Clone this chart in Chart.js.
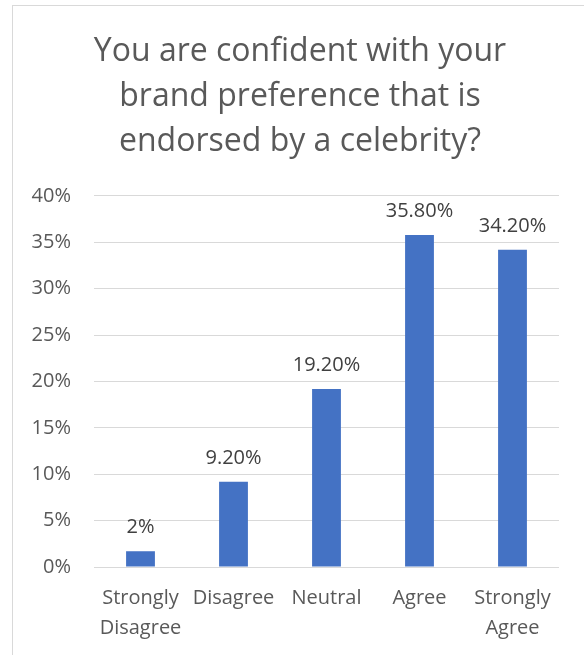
<!DOCTYPE html>
<html>
<head>
<meta charset="utf-8">
<script src="https://cdn.jsdelivr.net/npm/chart.js@4"></script>
<style>
  body { margin: 0; background: #fff; }
  .frame { position: absolute; left: 12px; top: 5px; width: 640px; height: 700px; border: 1px solid #d9d9d9; }
  #myChart { position: absolute; left: 0; top: 0; }
</style>
</head>
<body>
<div class="frame"></div>
<canvas id="myChart" width="584" height="655"></canvas>
<script>
const categories = [["Strongly", "Disagree"], "Disagree", "Neutral", "Agree", ["Strongly", "Agree"]];
const percentValues = [1.7, 9.2, 19.2, 35.8, 34.2];
const valueLabels = ["2%", "9.20%", "19.20%", "35.80%", "34.20%"];
const yTicks = [0, 5, 10, 15, 20, 25, 30, 35, 40];

const textColor = "#595959";
const fontFamily = "'Open Sans', 'Noto Sans', sans-serif";

// draws the value above each bar, like excel data labels
const barLabels = {
    id: "barLabels",
    afterDatasetsDraw(chart) {
        const ctx = chart.ctx;
        const meta = chart.getDatasetMeta(0);
        ctx.save();
        ctx.fillStyle = "#404040";
        ctx.font = "20px " + fontFamily;
        ctx.textAlign = "center";
        ctx.textBaseline = "alphabetic";
        meta.data.forEach((bar, i) => {
            ctx.fillText(valueLabels[i], bar.x, bar.y - 18);
        });
        ctx.restore();
    }
};

const myChartRef = document.getElementById("myChart").getContext("2d");
new Chart(myChartRef, {
    type: "bar",
    data: {
        labels: categories,
        datasets: [{
            data: percentValues,
            backgroundColor: "#4472C4",
            categoryPercentage: 1,
            barPercentage: 0.31
        }]
    },
    options: {
        responsive: false,
        animation: false,
        layout: { padding: { left: 16, right: 0, top: 0, bottom: 0 } },
        plugins: {
            legend: { display: false },
            tooltip: { enabled: false },
            title: {
                display: true,
                text: ["You are confident with your", "brand preference that is", "endorsed by a celebrity?"],
                color: textColor,
                font: { family: fontFamily, size: 32, weight: "normal", lineHeight: 1.406 },
                padding: { top: 29, bottom: 32 }
            }
        },
        scales: {
            x: {
                grid: { display: false },
                border: { display: false },
                afterFit(axis) { axis.height = 88; },
                ticks: {
                    color: textColor,
                    font: { family: fontFamily, size: 20, lineHeight: 1.5 },
                    maxRotation: 0,
                    autoSkip: false,
                    padding: 8
                }
            },
            y: {
                min: 0,
                max: 40,
                afterBuildTicks(axis) {
                    axis.ticks = yTicks.map(v => ({ value: v }));
                },
                afterFit(axis) { axis.width = 78; },
                grid: { color: "#d9d9d9", lineWidth: 1, drawTicks: false },
                border: { display: false },
                ticks: {
                    color: textColor,
                    font: { family: fontFamily, size: 20 },
                    padding: 23,
                    callback: v => v + "%"
                }
            },
            // empty right axis, only keeps the right margin
            yRight: {
                position: "right",
                min: 0,
                max: 40,
                afterFit(axis) { axis.width = 25; },
                grid: { display: false },
                border: { display: false },
                ticks: { display: false }
            }
        }
    },
    plugins: [barLabels]
});
</script>
</body>
</html>
